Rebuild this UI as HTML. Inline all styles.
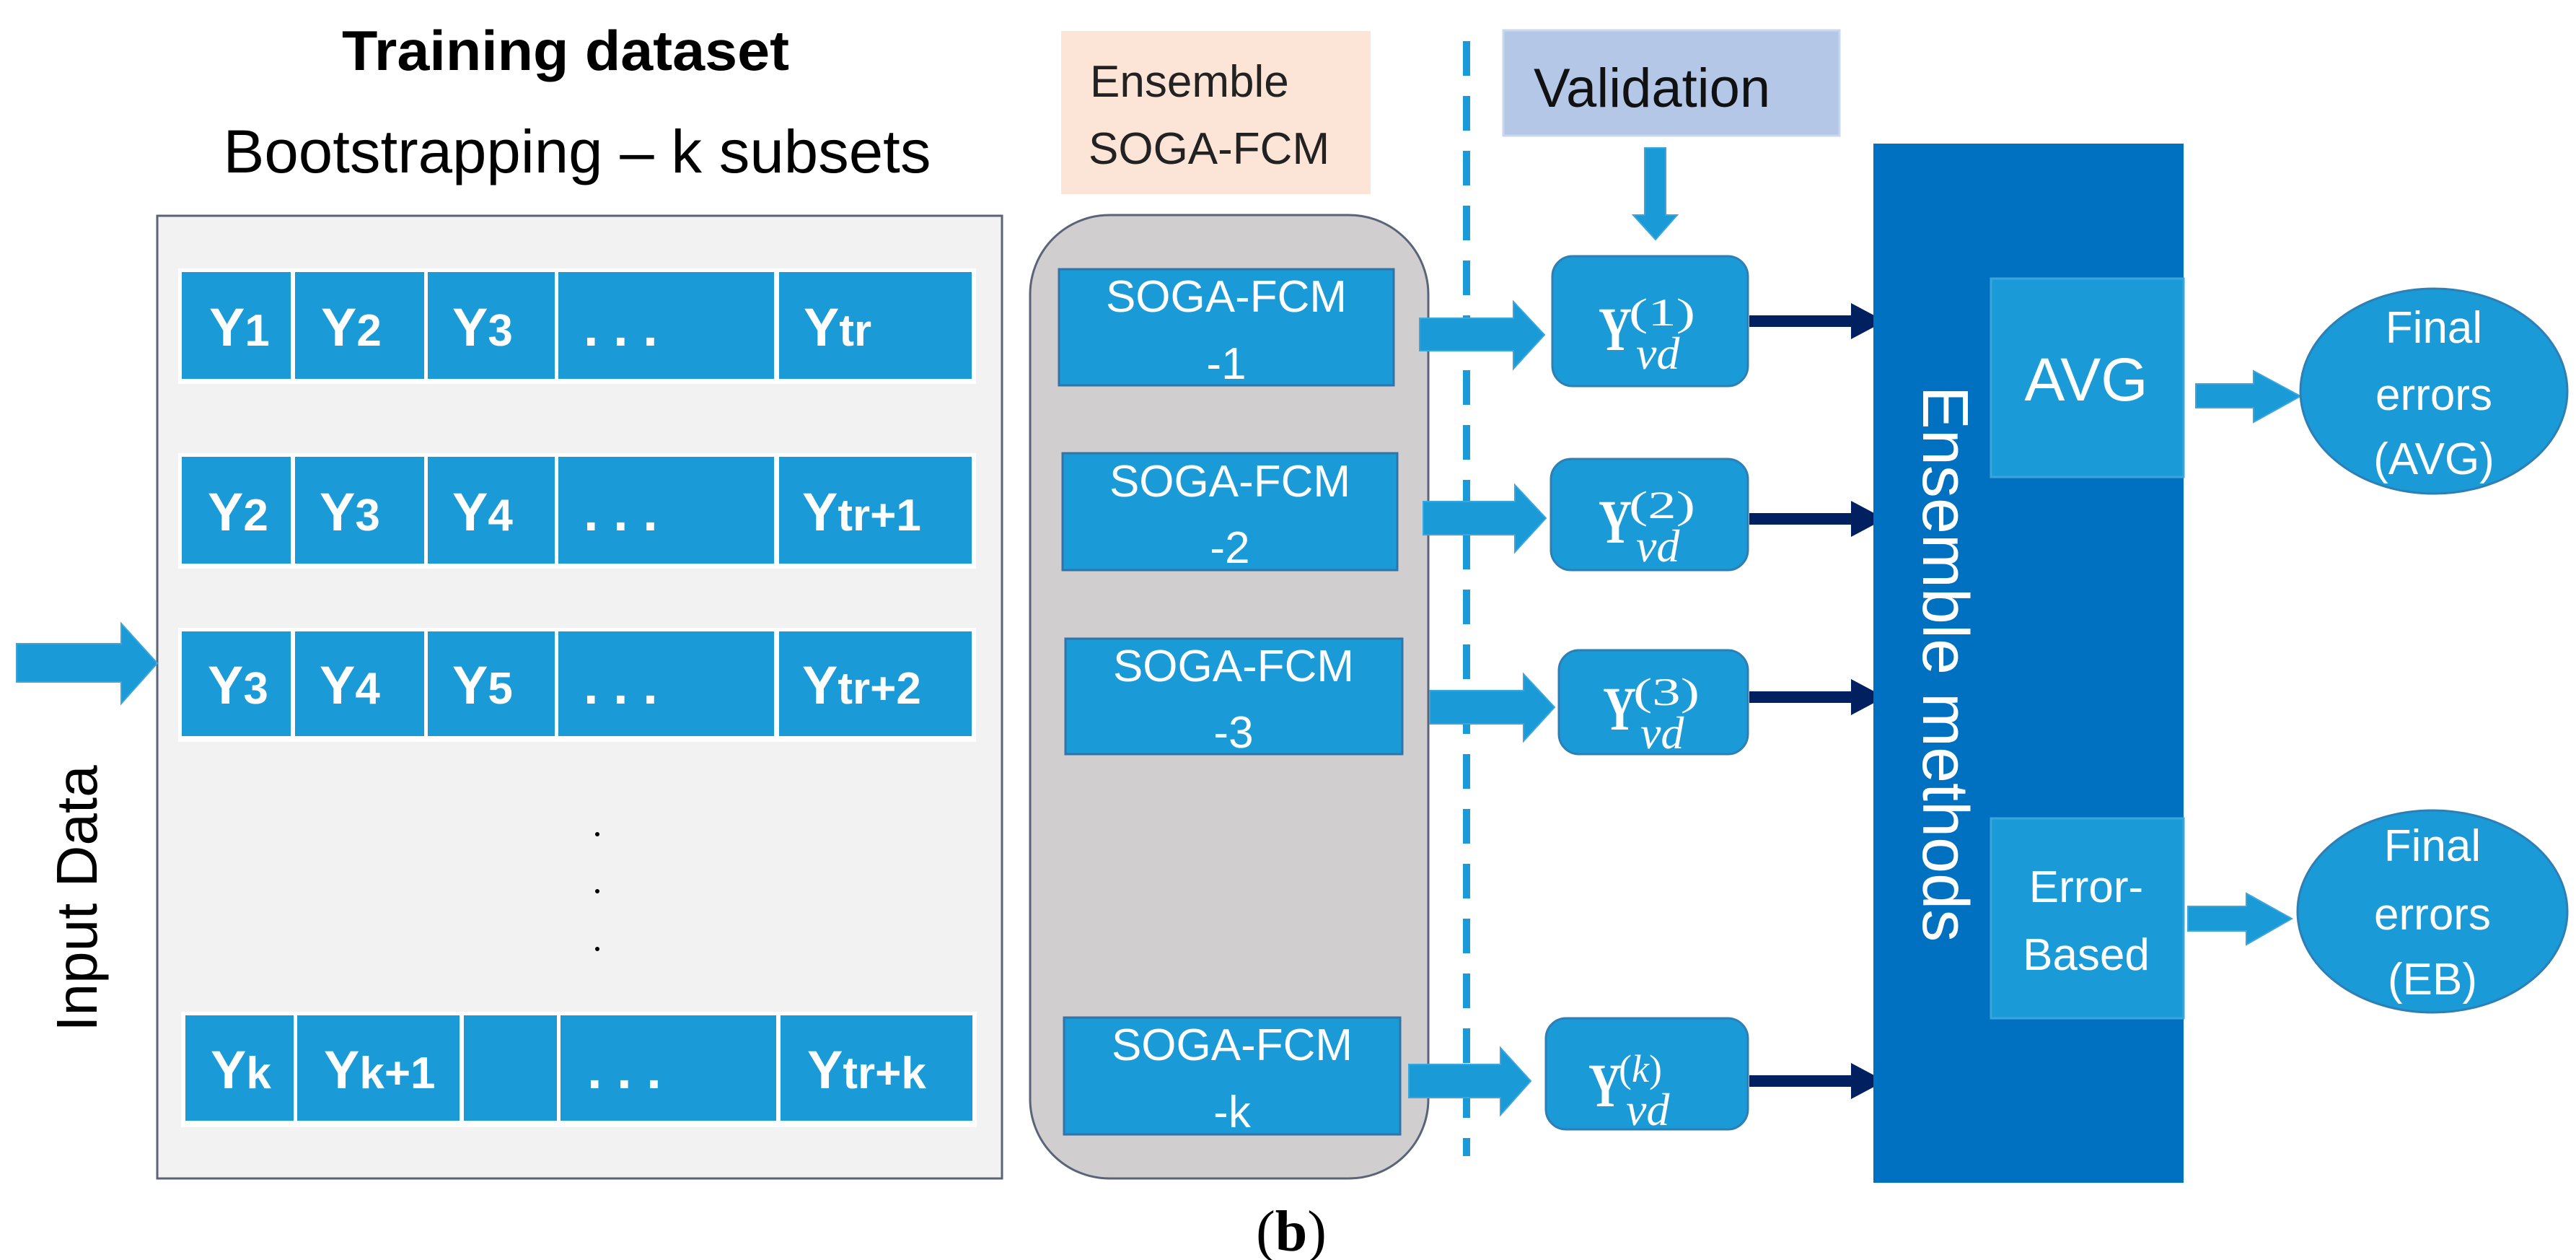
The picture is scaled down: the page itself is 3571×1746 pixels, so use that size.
<!DOCTYPE html>
<html><head><meta charset="utf-8"><style>html,body{margin:0;padding:0;background:#fff}svg{display:block}</style></head>
<body>
<svg width="3571" height="1746" viewBox="0 0 3571 1746" xmlns="http://www.w3.org/2000/svg" font-family="Liberation Sans, sans-serif">
<defs>
<g id="navy"><rect x="0" y="-8" width="145" height="16" fill="#002060"/><polygon points="141,-25 188,0 141,25" fill="#002060"/></g>
</defs>
<text x="784" y="97" font-size="78" font-weight="bold" text-anchor="middle" textLength="620" lengthAdjust="spacingAndGlyphs" fill="#000">Training dataset</text>
<text x="800" y="239" font-size="84" text-anchor="middle" textLength="981" lengthAdjust="spacingAndGlyphs" fill="#000">Bootstrapping – k subsets</text>

<rect x="218" y="299" width="1171" height="1334" fill="#f2f2f2" stroke="#5a6478" stroke-width="3"/>
<g fill="#1a9ad6">
<rect x="247" y="372" width="1106" height="160" fill="#fff"/>
<rect x="252" y="377" width="151" height="148"/><rect x="409" y="377" width="179" height="148"/><rect x="593" y="377" width="176" height="148"/><rect x="774" y="377" width="299" height="148"/><rect x="1080" y="377" width="267" height="148"/>
<rect x="247" y="628" width="1106" height="160" fill="#fff"/>
<rect x="252" y="633" width="151" height="148"/><rect x="409" y="633" width="179" height="148"/><rect x="593" y="633" width="176" height="148"/><rect x="774" y="633" width="299" height="148"/><rect x="1080" y="633" width="267" height="148"/>
<rect x="247" y="870" width="1106" height="158" fill="#fff"/>
<rect x="252" y="875" width="151" height="145"/><rect x="409" y="875" width="179" height="145"/><rect x="593" y="875" width="176" height="145"/><rect x="774" y="875" width="299" height="145"/><rect x="1080" y="875" width="267" height="145"/>
<rect x="251" y="1402" width="1103" height="160" fill="#fff"/>
<rect x="257" y="1407" width="150" height="146"/><rect x="412" y="1407" width="225" height="146"/><rect x="643" y="1407" width="129" height="146"/><rect x="777" y="1407" width="299" height="146"/><rect x="1082" y="1407" width="266" height="146"/>
</g>
<g fill="#fff" font-weight="bold" font-size="74">
<text x="290" y="479">Y<tspan font-size="62">1</tspan></text><text x="445" y="479">Y<tspan font-size="62">2</tspan></text><text x="627" y="479">Y<tspan font-size="62">3</tspan></text><text x="809" y="479">. . .</text><text x="1114" y="479">Y<tspan font-size="62">tr</tspan></text>
<text x="288" y="735">Y<tspan font-size="62">2</tspan></text><text x="443" y="735">Y<tspan font-size="62">3</tspan></text><text x="627" y="735">Y<tspan font-size="62">4</tspan></text><text x="809" y="735">. . .</text><text x="1112" y="735">Y<tspan font-size="62">tr+1</tspan></text>
<text x="288" y="975">Y<tspan font-size="62">3</tspan></text><text x="443" y="975">Y<tspan font-size="62">4</tspan></text><text x="627" y="975">Y<tspan font-size="62">5</tspan></text><text x="809" y="975">. . .</text><text x="1112" y="975">Y<tspan font-size="62">tr+2</tspan></text>
<text x="292" y="1508">Y<tspan font-size="62">k</tspan></text><text x="449" y="1508">Y<tspan font-size="62">k+1</tspan></text><text x="814" y="1508">. . .</text><text x="1119" y="1508">Y<tspan font-size="62">tr+k</tspan></text>
</g>
<g fill="#000"><circle cx="828" cy="1156" r="3"/><circle cx="828" cy="1235" r="3"/><circle cx="828" cy="1315" r="3"/></g>

<polygon points="23,892 168,892 168,864 218,919 168,975 168,945 23,945" fill="#1a9ad6" stroke="#3aa6dc" stroke-width="2"/>
<text transform="translate(134,1245) rotate(-90)" font-size="80" text-anchor="middle" fill="#000">Input Data</text>

<rect x="1471" y="43" width="429" height="226" fill="#fce4d6"/>
<text x="1511" y="134" font-size="62" fill="#222">Ensemble</text>
<text x="1509" y="227" font-size="62" fill="#222">SOGA-FCM</text>

<rect x="1428" y="298" width="552" height="1335" rx="110" fill="#d0cece" stroke="#5a6478" stroke-width="3"/>
<g fill="#1a9ad6" stroke="#3273a8" stroke-width="3">
<rect x="1468" y="373" width="464" height="161"/><rect x="1473" y="628" width="464" height="162"/><rect x="1477" y="885" width="467" height="160"/><rect x="1475" y="1410" width="466" height="162"/>
</g>
<g fill="#fff" font-size="62" text-anchor="middle">
<text x="1700" y="432">SOGA-FCM</text><text x="1700" y="525">-1</text>
<text x="1705" y="688">SOGA-FCM</text><text x="1705" y="780">-2</text>
<text x="1710" y="944">SOGA-FCM</text><text x="1710" y="1036">-3</text>
<text x="1708" y="1469">SOGA-FCM</text><text x="1708" y="1562">-k</text>
</g>

<line x1="2033" y1="57" x2="2033" y2="1602" stroke="#1a9ad6" stroke-width="10" stroke-dasharray="48,28"/>

<rect x="2084" y="42" width="466" height="146" fill="#b4c7e7" stroke="#c9d7ef" stroke-width="3"/>
<text x="2126" y="148" font-size="76" fill="#111">Validation</text>
<polygon points="2280,205 2309,205 2309,298 2325,298 2295,332 2264,298 2280,298" fill="#1a9ad6" stroke="#3aa6dc" stroke-width="2"/>

<g fill="#1a9ad6" stroke="#3aa6dc" stroke-width="2">
<polygon points="1968,441 2098,441 2098,418 2141,464 2098,511 2098,486 1968,486"/>
<polygon points="1973,695 2100,695 2100,672 2143,718 2100,765 2100,741 1973,741"/>
<polygon points="1982,957 2112,957 2112,934 2155,980 2112,1027 2112,1003 1982,1003"/>
<polygon points="1953,1475 2080,1475 2080,1452 2122,1498 2080,1545 2080,1521 1953,1521"/>
</g>

<g fill="#1a9ad6" stroke="#2d7fb5" stroke-width="3">
<rect x="2152" y="355" width="271" height="180" rx="28"/>
<rect x="2150" y="636" width="273" height="154" rx="28"/>
<rect x="2161" y="901" width="262" height="144" rx="28"/>
<rect x="2143" y="1411" width="280" height="154" rx="28"/>
</g>
<g fill="#fff" font-family="Liberation Serif, serif">
<text x="2216" y="485" font-size="86" font-weight="bold" textLength="46" lengthAdjust="spacingAndGlyphs">Y</text><text x="2258" y="451" font-size="54" textLength="92" lengthAdjust="spacingAndGlyphs">(1)</text><text x="2268" y="511" font-size="64" font-style="italic">vd</text>
<text x="2216" y="752" font-size="86" font-weight="bold" textLength="46" lengthAdjust="spacingAndGlyphs">Y</text><text x="2258" y="718" font-size="54" textLength="92" lengthAdjust="spacingAndGlyphs">(2)</text><text x="2268" y="778" font-size="64" font-style="italic">vd</text>
<text x="2222" y="1011" font-size="86" font-weight="bold" textLength="46" lengthAdjust="spacingAndGlyphs">Y</text><text x="2264" y="977" font-size="54" textLength="92" lengthAdjust="spacingAndGlyphs">(3)</text><text x="2274" y="1037" font-size="64" font-style="italic">vd</text>
<text x="2202" y="1533" font-size="86" font-weight="bold" textLength="46" lengthAdjust="spacingAndGlyphs">Y</text><text x="2244" y="1499" font-size="54">(<tspan font-style="italic">k</tspan>)</text><text x="2254" y="1559" font-size="64" font-style="italic">vd</text>
</g>

<use href="#navy" x="2425" y="445"/>
<use href="#navy" x="2425" y="719"/>
<use href="#navy" x="2425" y="966"/>
<use href="#navy" x="2425" y="1498"/>

<rect x="2597" y="199" width="430" height="1440" fill="#0070c0"/>
<text transform="translate(2666,920) rotate(90)" font-size="90" text-anchor="middle" fill="#fff">Ensemble methods</text>
<rect x="2760" y="386" width="267" height="275" fill="#1a9ad6" stroke="#3aa6dc" stroke-width="3"/>
<text x="2892" y="555" font-size="84" text-anchor="middle" fill="#fff">AVG</text>
<rect x="2760" y="1134" width="267" height="277" fill="#1a9ad6" stroke="#3aa6dc" stroke-width="3"/>
<text x="2892" y="1250" font-size="62" text-anchor="middle" fill="#fff">Error-</text>
<text x="2892" y="1344" font-size="62" text-anchor="middle" fill="#fff">Based</text>

<g fill="#1a9ad6" stroke="#3aa6dc" stroke-width="2">
<polygon points="3044,532 3124,532 3124,514 3189,549 3124,585 3124,565 3044,565"/>
<polygon points="3033,1256 3114,1256 3114,1238 3177,1273 3114,1309 3114,1290 3033,1290"/>
</g>
<g fill="#1a9ad6" stroke="#2d7fb5" stroke-width="3">
<ellipse cx="3374" cy="542" rx="185" ry="142"/>
<ellipse cx="3372" cy="1263" rx="187" ry="140"/>
</g>
<g fill="#fff" font-size="62" text-anchor="middle">
<text x="3374" y="475">Final</text><text x="3374" y="568">errors</text><text x="3374" y="657">(AVG)</text>
<text x="3372" y="1193">Final</text><text x="3372" y="1288">errors</text><text x="3372" y="1378">(EB)</text>
</g>

<text x="1790" y="1733" font-size="80" font-family="Liberation Serif, serif" text-anchor="middle" fill="#000">(<tspan font-weight="bold">b</tspan>)</text>
</svg>
</body></html>
